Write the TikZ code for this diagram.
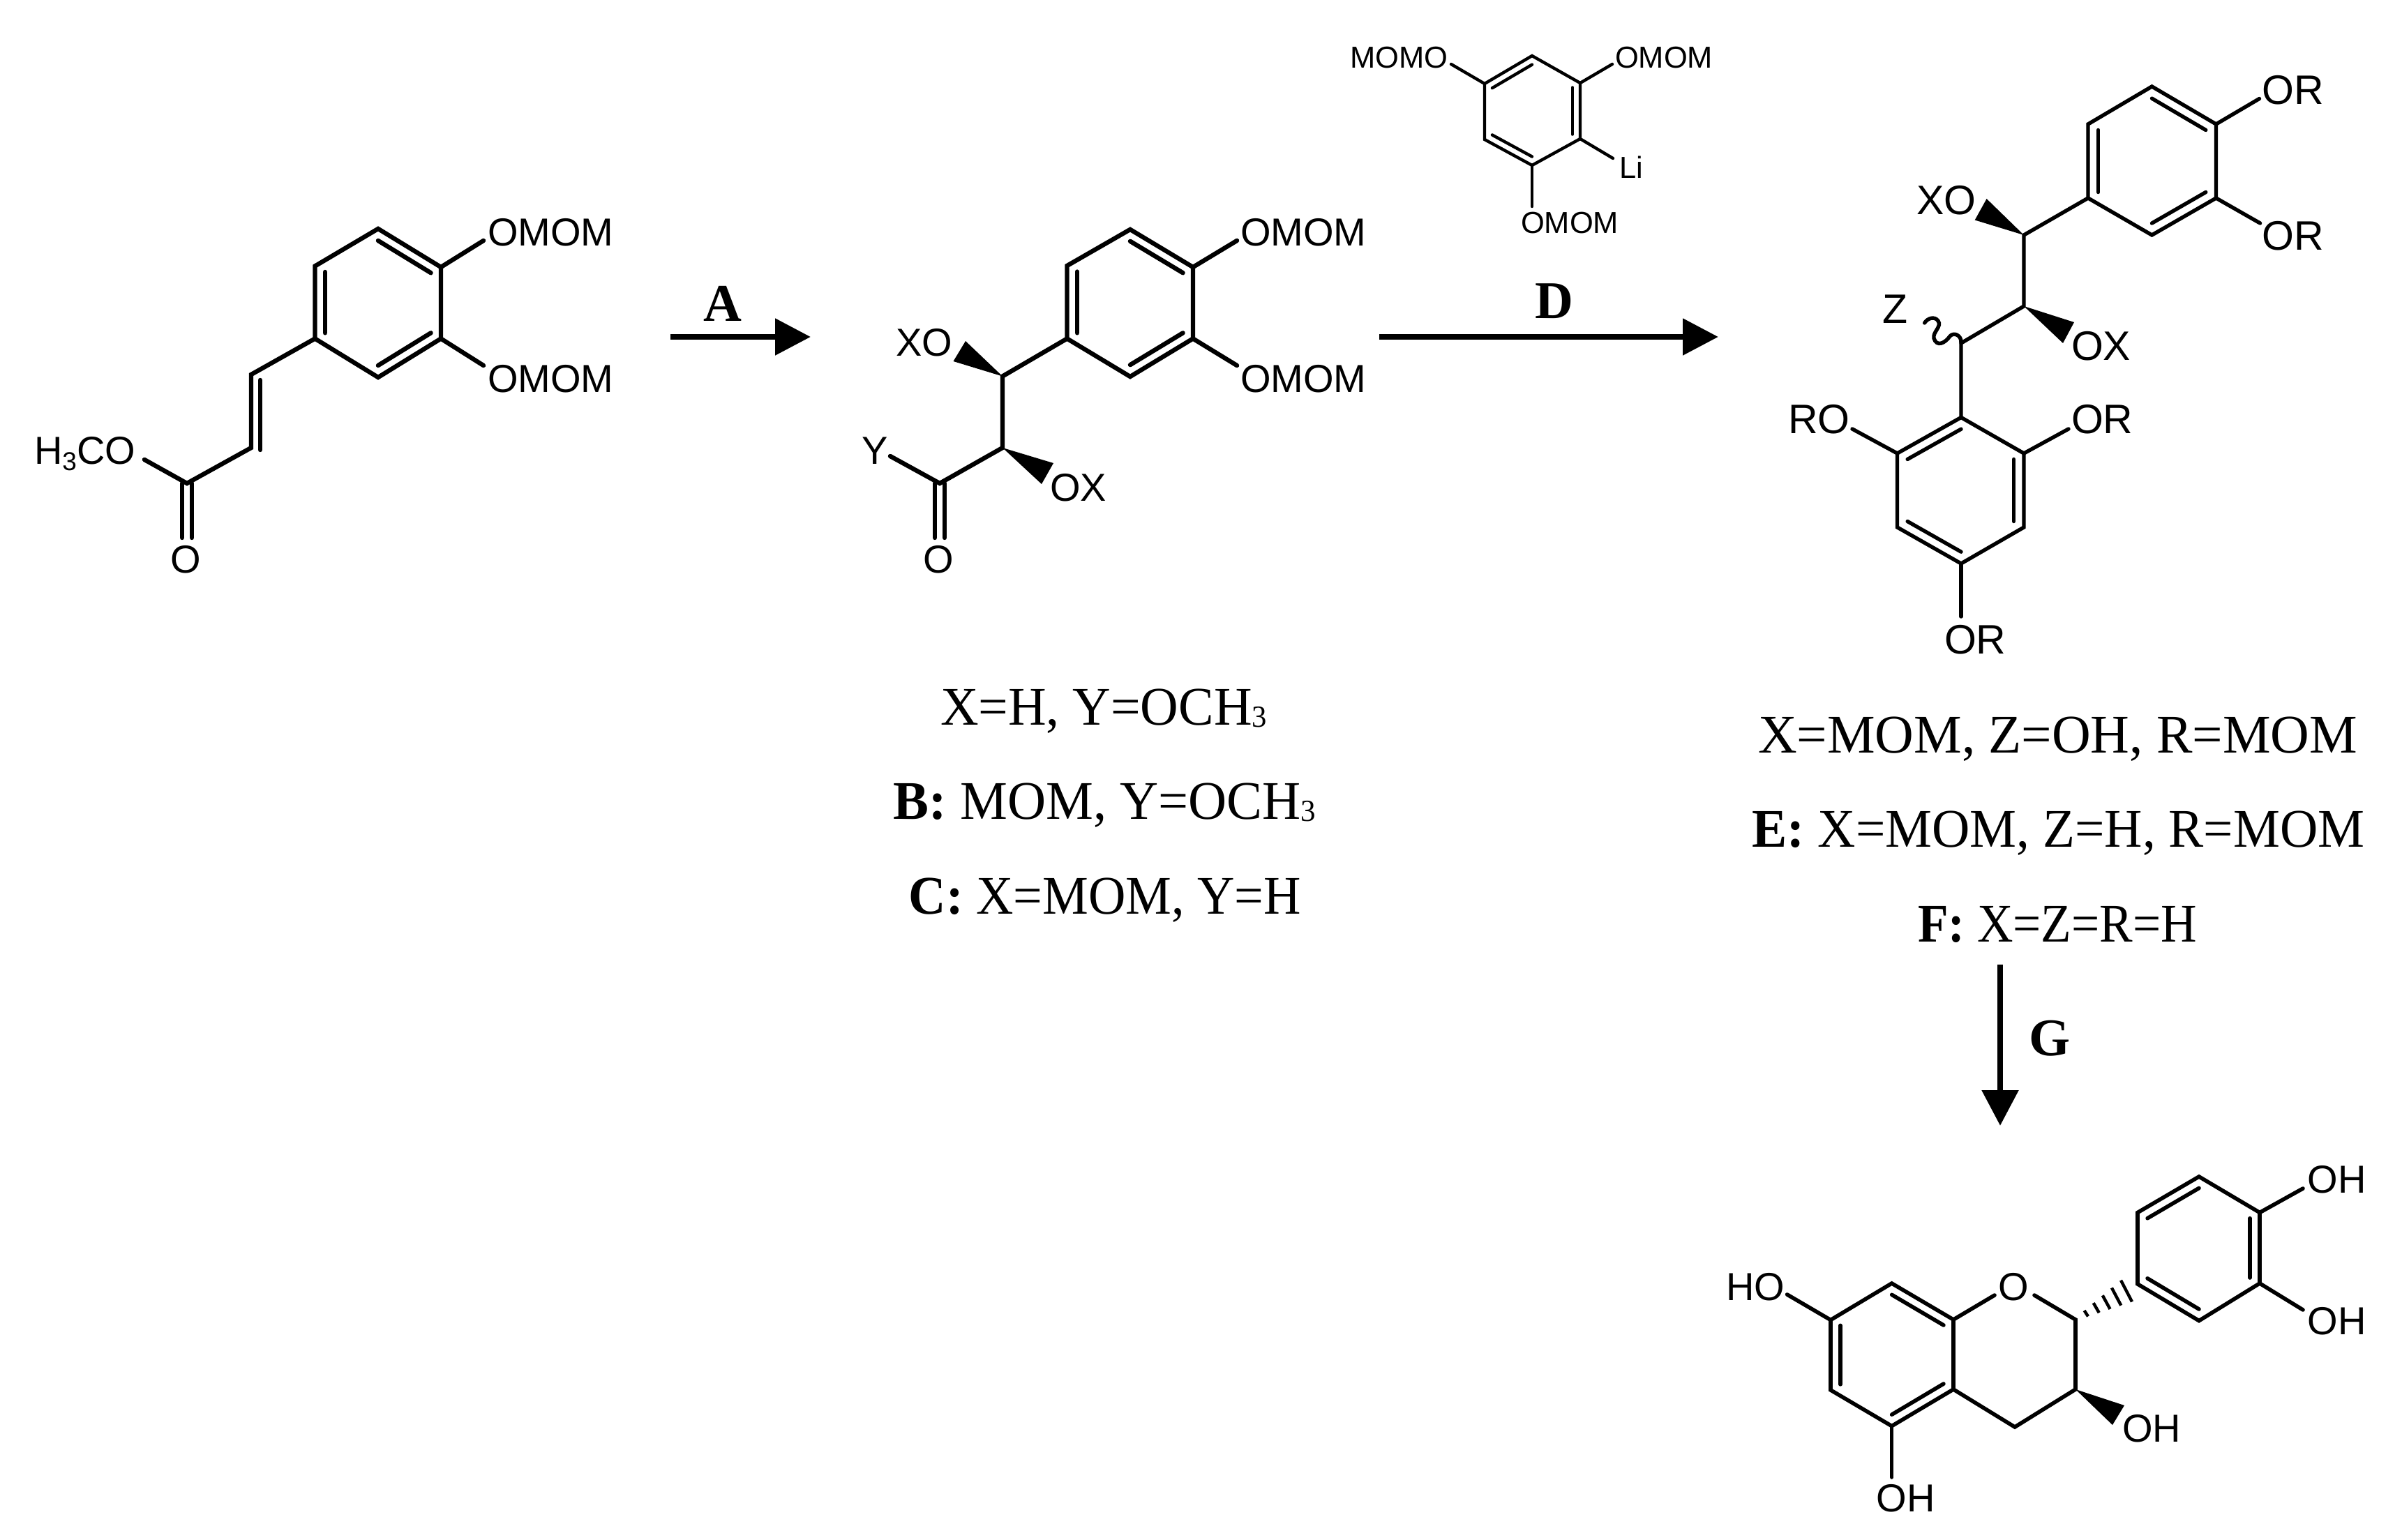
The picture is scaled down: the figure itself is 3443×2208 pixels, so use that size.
\documentclass[tikz,border=0pt]{standalone}
\usepackage{fontspec}
\usepackage{graphicx}
\setmainfont{Liberation Serif}
\setsansfont{Liberation Sans}
\usetikzlibrary{calc,arrows.meta}
\newcommand\sz[1]{\fontsize{#1}{#1}\selectfont}
\newcommand\sub[1]{\raisebox{-9pt}{\sz{37}#1}}
\newcommand\subs[1]{\raisebox{-3pt}{\sz{44}#1}}
% inner line of an aromatic double bond: the bond p-q pulled towards ring centre c
\newcommand\dbl[3]{\draw[bond] ($(#1)!0.16!(#3)$) -- ($(#2)!0.16!(#3)$);}
\newcommand\fitline[4]{\node[serif] (#1) at (#2) {\resizebox{#3pt}{\height}{#4}};}
\tikzset{
  x=1pt,y=-1pt,
  bond/.style={line width=\bw,line cap=round,line join=miter},
  lab/.style={inner sep=0pt,outer sep=0pt,anchor=base west,xshift=-3pt,font=\sffamily\sz{56}},
  labs/.style={inner sep=0pt,outer sep=0pt,anchor=base west,xshift=-2pt,font=\sffamily\sz{43.5}},
  labm/.style={inner sep=0pt,outer sep=0pt,anchor=base west,xshift=-3pt,font=\sffamily\sz{59}},
  serif/.style={inner sep=0pt,outer sep=0pt,anchor=base,yshift=-2pt,font=\rmfamily\sz{78}},
  step label/.style={inner sep=0pt,outer sep=0pt,anchor=base,font=\rmfamily\bfseries\sz{76}},
  reaction/.style={line width=8.8pt,-{Triangle[length=51pt,width=51pt]}},
}
\newlength\bw
\begin{document}
\begin{tikzpicture}
\useasboundingbox (0,0) rectangle (3443,2208);
\fill[white] (0,0) rectangle (3443,2208);

%% ---------- compound 1 ----------
\setlength\bw{6.4pt}
\coordinate (a1) at (542,328);\coordinate (a2) at (632,383);\coordinate (a3) at (632,485.5);
\coordinate (a4) at (542,541);\coordinate (a5) at (451.5,485.5);\coordinate (a6) at (451.5,381.5);
\coordinate (ac) at (542,434.5);
\coordinate (av1) at (360,537);\coordinate (av2) at (360,642);\coordinate (ac1) at (268,693);
\coordinate (aoe) at (207,659);\coordinate (ao1) at (693,345);\coordinate (ao2) at (693,524);
\coordinate (aco) at (268,771);
\draw[bond] (a1)--(a2)--(a3)--(a4)--(a5)--(a6)--cycle;
\dbl{a1}{a2}{ac}\dbl{a3}{a4}{ac}\dbl{a5}{a6}{ac}
\draw[bond] (a5)--(av1)--(av2)--(ac1)--(aoe);
\draw[bond] ($(av1)+(13,8)$)--($(av2)+(13,3)$);
\draw[bond] ($(ac1)+(-7,0)$)--($(aco)+(-7,0)$);
\draw[bond] ($(ac1)+(7,0)$)--($(aco)+(7,0)$);
\draw[bond] (a2)--(ao1);\draw[bond] (a3)--(ao2);
\node[lab] (aOMOM1) at (702,352.7) {OMOM};
\node[lab] (aOMOM2) at (702,562) {OMOM};
\node[lab] (aMeO) at (52,665) {H\sub{3}CO};
\node[lab] (aO) at (247,821) {O};

%% arrow A
\coordinate (As) at (961,483);\coordinate (Ae) at (1162,483);
\draw[reaction] (As)--(Ae);
\node[step label] (Alab) at (1036,460) {A};

%% ---------- compound 2 ----------
\coordinate (b1) at (1620,329);\coordinate (b2) at (1710,383);\coordinate (b3) at (1710,485.5);
\coordinate (b4) at (1620,540);\coordinate (b5) at (1529.5,485.5);\coordinate (b6) at (1529.5,381);
\coordinate (bc) at (1620,434.5);
\coordinate (bc1) at (1437,539.5);\coordinate (bc2) at (1437,642);\coordinate (bc3) at (1347,693);
\coordinate (bye) at (1276,654);\coordinate (bco) at (1347,771);
\coordinate (bo1) at (1773,345);\coordinate (bo2) at (1773,524);
\coordinate (bw1) at (1384,489);\coordinate (bw2) at (1366.5,518);
\coordinate (bw3) at (1510,664);\coordinate (bw4) at (1493,694);
\draw[bond] (b1)--(b2)--(b3)--(b4)--(b5)--(b6)--cycle;
\dbl{b1}{b2}{bc}\dbl{b3}{b4}{bc}\dbl{b5}{b6}{bc}
\draw[bond] (b5)--(bc1)--(bc2)--(bc3)--(bye);
\draw[bond] ($(bc3)+(-7,0)$)--($(bco)+(-7,0)$);
\draw[bond] ($(bc3)+(7,0)$)--($(bco)+(7,0)$);
\draw[bond] (b2)--(bo1);\draw[bond] (b3)--(bo2);
\fill (bc1)--(bw1)--(bw2)--cycle;
\fill (bc2)--(bw3)--(bw4)--cycle;
\node[lab] (bOMOM1) at (1781,352.7) {OMOM};
\node[lab] (bOMOM2) at (1781,562) {OMOM};
\node[lab] (bXO) at (1287,510) {XO};
\node[lab] (bOX) at (1508,718.6) {OX};
\node[lab] (bY) at (1238,665) {Y};
\node[lab] (bO) at (1326,821) {O};

%% arrow D and the lithium reagent
\coordinate (Ds) at (1977,483);\coordinate (De) at (2463,483);
\draw[reaction] (Ds)--(De);
\node[step label] (Dlab) at (2228,456) {D};

\setlength\bw{4.4pt}
\coordinate (d1) at (2196,80);\coordinate (d2) at (2265,119);\coordinate (d3) at (2265,199);
\coordinate (d4) at (2196,237);\coordinate (d5) at (2128,200);\coordinate (d6) at (2128,120);
\coordinate (dc) at (2196,159);
\coordinate (do1) at (2080,92);\coordinate (do2) at (2311,92);
\coordinate (dli) at (2312,227);\coordinate (do3) at (2196,296);
\draw[bond] (d1)--(d2)--(d3)--(d4)--(d5)--(d6)--cycle;
\dbl{d6}{d1}{dc}\dbl{d2}{d3}{dc}\dbl{d4}{d5}{dc}
\draw[bond] (d6)--(do1);\draw[bond] (d2)--(do2);\draw[bond] (d3)--(dli);\draw[bond] (d4)--(do3);
\node[labs] (dMOMO) at (1937,97) {MOMO};
\node[labs] (dOMOM1) at (2317,97) {OMOM};
\node[labs] (dLi) at (2323,255) {Li};
\node[labs] (dOMOM2) at (2182,334) {OMOM};

%% ---------- compound 3 ----------
\setlength\bw{5.4pt}
\coordinate (e1) at (3084.5,124);\coordinate (e2) at (3176.5,178);\coordinate (e3) at (3176.5,284);
\coordinate (e4) at (3084.5,337);\coordinate (e5) at (2993,284);\coordinate (e6) at (2993,178);
\coordinate (ec) at (3084.5,231);
\coordinate (ec1) at (2901,337);\coordinate (ec2) at (2901,439);\coordinate (ec3) at (2811,492);
\coordinate (f1) at (2811,598.5);\coordinate (f2) at (2901,650);\coordinate (f3) at (2901,756);
\coordinate (f4) at (2811,808);\coordinate (f5) at (2719.5,756);\coordinate (f6) at (2719.5,650);
\coordinate (fc) at (2811,703);
\coordinate (eo1) at (3238.5,141.5);\coordinate (eo2) at (3239.6,320);
\coordinate (fo1) at (2655,615);\coordinate (fo2) at (2965,615);\coordinate (fo3) at (2811,884);
\coordinate (ew1) at (2847.6,285);\coordinate (ew2) at (2830.7,315.5);
\coordinate (ew3) at (2973,462);\coordinate (ew4) at (2957,492);
\draw[bond] (e1)--(e2)--(e3)--(e4)--(e5)--(e6)--cycle;
\dbl{e1}{e2}{ec}\dbl{e3}{e4}{ec}\dbl{e5}{e6}{ec}
\draw[bond] (e5)--(ec1)--(ec2)--(ec3)--(f1);
\draw[bond] (f1)--(f2)--(f3)--(f4)--(f5)--(f6)--cycle;
\dbl{f6}{f1}{fc}\dbl{f2}{f3}{fc}\dbl{f4}{f5}{fc}
\draw[bond] (e2)--(eo1);\draw[bond] (e3)--(eo2);
\draw[bond] (f6)--(fo1);\draw[bond] (f2)--(fo2);\draw[bond] (f4)--(fo3);
\fill (ec1)--(ew1)--(ew2)--cycle;
\fill (ec2)--(ew3)--(ew4)--cycle;
\coordinate (zend) at (2758.6,463);
\draw[bond] (ec3) .. controls (2812,480) and (2800,476) .. (2795,482)
  .. controls (2788,492) and (2776,498) .. (2772,485)
  .. controls (2770,476) and (2784,468) .. (2778,460)
  .. controls (2773,453) and (2763,456) .. (zend);
\node[labm] (eOR1) at (3245.6,149) {OR};
\node[labm] (eOR2) at (3245.6,358.5) {OR};
\node[labm] (eXO) at (2750,307) {XO};
\node[labm] (eOX) at (2972,516) {OX};
\node[labm] (eZ) at (2701,463.5) {Z};
\node[labm] (fRO) at (2566,621.5) {RO};
\node[labm] (fOR1) at (2972,621.5) {OR};
\node[labm] (fOR2) at (2790,937) {OR};

%% arrow G
\coordinate (Gs) at (2867,1383);\coordinate (Ge) at (2867,1614);
\draw[reaction] (Gs)--(Ge);
\node[step label] (Glab) at (2938,1513) {G};

%% ---------- product ----------
\setlength\bw{5.6pt}
\coordinate (p1) at (2711.6,1840);\coordinate (p2) at (2800,1892);\coordinate (p3) at (2800,1992);
\coordinate (p4) at (2711.6,2044.6);\coordinate (p5) at (2624,1993);\coordinate (p6) at (2624,1892.5);
\coordinate (pc) at (2712,1942);
\coordinate (po1) at (2859,1857);\coordinate (po2) at (2916,1857);
\coordinate (q2) at (2975,1892);\coordinate (q3) at (2975,1992);\coordinate (q4) at (2888,2046);
\coordinate (r1) at (3152,1687);\coordinate (r2) at (3239,1738.5);\coordinate (r3) at (3239,1840);
\coordinate (r4) at (3152,1893.6);\coordinate (r5) at (3064,1841);\coordinate (r6) at (3064,1738.5);
\coordinate (rc) at (3152,1790);
\coordinate (ro1) at (3301,1704);\coordinate (ro2) at (3301,1878);
\coordinate (po3) at (2561.6,1856);\coordinate (po4) at (2711.6,2118);
\coordinate (qw1) at (3045,2015);\coordinate (qw2) at (3028,2043);
\coordinate (h1a) at (2987.6,1879);\coordinate (h1b) at (2993,1887.4);
\coordinate (h5a) at (3040,1835.6);\coordinate (h5b) at (3056,1866.4);
\draw[bond] (p1)--(p2)--(p3)--(p4)--(p5)--(p6)--cycle;
\dbl{p1}{p2}{pc}\dbl{p3}{p4}{pc}\dbl{p5}{p6}{pc}
\draw[bond] (p2)--(po1);\draw[bond] (po2)--(q2)--(q3)--(q4)--(p3);
\draw[bond] (r1)--(r2)--(r3)--(r4)--(r5)--(r6)--cycle;
\dbl{r6}{r1}{rc}\dbl{r2}{r3}{rc}\dbl{r4}{r5}{rc}
\draw[bond] (r2)--(ro1);\draw[bond] (r3)--(ro2);
\draw[bond] (p6)--(po3);\draw[bond] (p4)--(po4);
\fill (q3)--(qw1)--(qw2)--cycle;
\foreach \t in {0,0.25,0.5,0.75,1}
  \draw[line width=4.4pt] ($(h1a)!\t!(h5a)$)--($(h1b)!\t!(h5b)$);
\node[lab] (pO) at (2867,1864) {O};
\node[lab] (pHO) at (2477,1864) {HO};
\node[lab] (rOH1) at (3310.6,1710.6) {OH};
\node[lab] (rOH2) at (3310.6,1913.5) {OH};
\node[lab] (qOH) at (3045,2067.5) {OH};
\node[lab] (pOH) at (2692.7,2167.8) {OH};

%% ---------- captions ----------
\fitline{t1}{1582,1037}{468}{X=H, Y=OCH\subs{3}}
\fitline{t2}{1583.5,1172}{605}{\textbf{B:} MOM, Y=OCH\subs{3}}
\fitline{t3}{1584,1308.5}{562}{\textbf{C:} X=MOM, Y=H}
\fitline{t4}{2949.5,1077}{859}{X=MOM, Z=OH, R=MOM}
\fitline{t5}{2950.7,1212.5}{878}{\textbf{E:} X=MOM, Z=H, R=MOM}
\fitline{t6}{2949,1348}{400}{\textbf{F:} X=Z=R=H}
\end{tikzpicture}
\end{document}
